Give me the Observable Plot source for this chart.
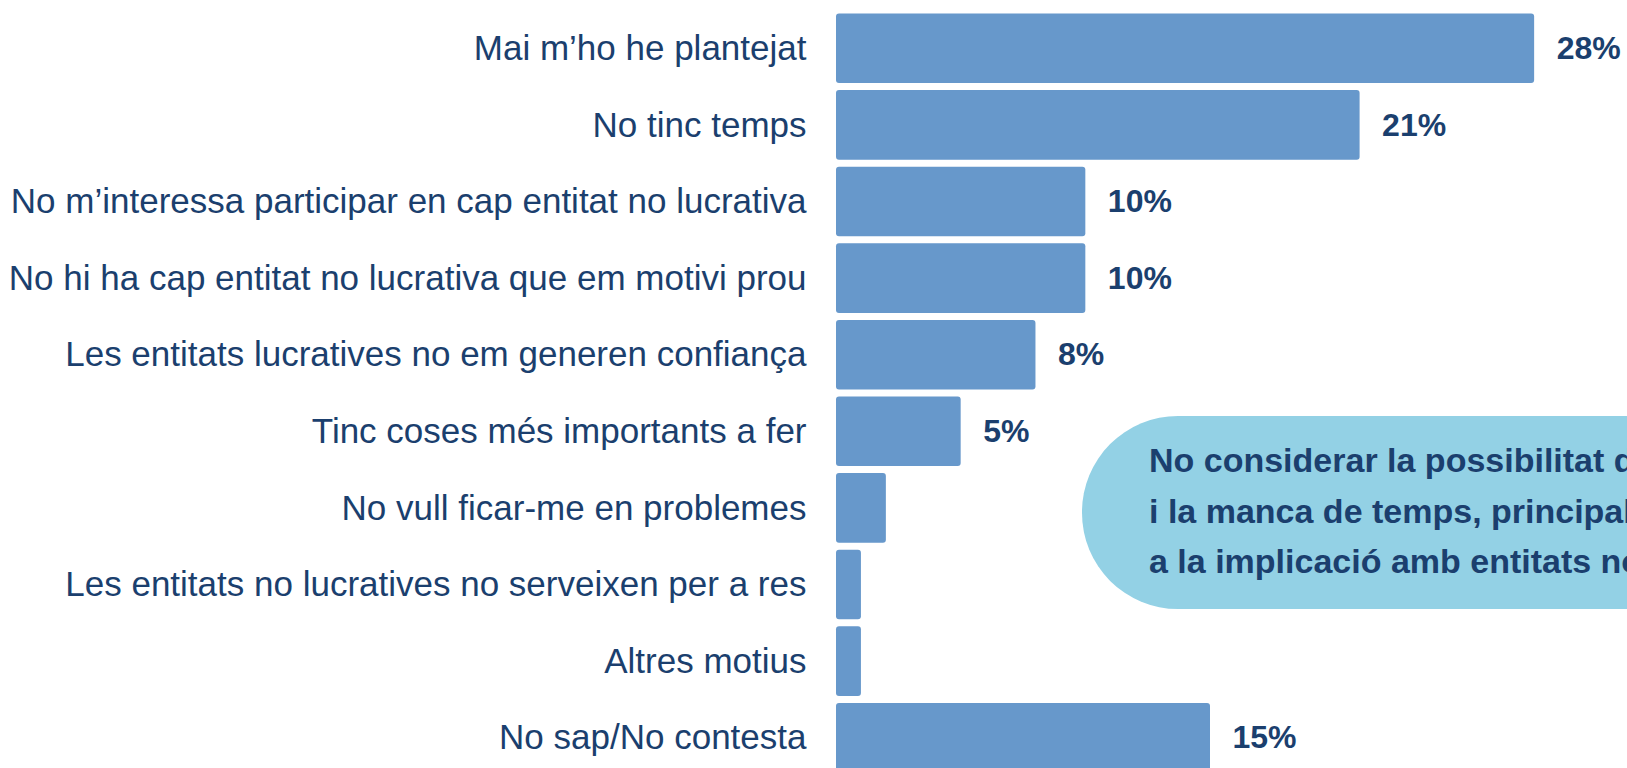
<!DOCTYPE html>
<html>
<head>
<meta charset="utf-8">
<script src="https://cdn.jsdelivr.net/npm/d3@7"></script>
<script src="https://cdn.jsdelivr.net/npm/@observablehq/plot@0.6"></script>
<style>
  html, body { margin: 0; padding: 0; background: #fff; overflow: hidden; }
  #wrap { position: relative; width: 1627px; height: 768px; overflow: hidden; }
  #callout {
    position: absolute; left: 1082px; top: 416px; width: 700px; height: 193px;
    background: #93d1e5; border-radius: 96px 0 0 96px;
    box-sizing: border-box; padding: 19px 0 0 67px;
    font-family: "Liberation Sans", Arial, sans-serif; font-weight: bold;
    font-size: 34px; line-height: 50.5px; color: #1b3f6e; white-space: nowrap;
  }
</style>
</head>
<body>
<div id="wrap">
  <div id="chart"></div>
  <div id="callout"></div>
</div>
<script>
const categories = [
  "Mai m’ho he plantejat",
  "No tinc temps",
  "No m’interessa participar en cap entitat no lucrativa",
  "No hi ha cap entitat no lucrativa que em motivi prou",
  "Les entitats lucratives no em generen confiança",
  "Tinc coses més importants a fer",
  "No vull ficar-me en problemes",
  "Les entitats no lucratives no serveixen per a res",
  "Altres motius",
  "No sap/No contesta"
];
const values = [28, 21, 10, 10, 8, 5, 2, 1, 1, 15];
const calloutLines = [
  "No considerar la possibilitat de",
  "i la manca de temps, principals",
  "a la implicació amb entitats no"
];

const data = categories.map((c, i) => ({category: c, value: values[i]}));
const navy = "#1b3f6e";

const chart = Plot.plot({
  width: 1627,
  height: 790,
  marginLeft: 836,
  marginRight: 43,
  marginTop: 10,
  marginBottom: 14,
  style: {fontFamily: "'Liberation Sans', Arial, sans-serif", color: navy, background: "transparent"},
  x: {domain: [0, 30], axis: null},
  y: {domain: categories, paddingInner: 0.092, paddingOuter: 0.046, round: false, axis: null},
  marks: [
    Plot.axisY({tickSize: 0, tickPadding: 30, fontSize: 35, label: null, fill: navy}),
    Plot.barX(data, {x: "value", y: "category", fill: "#6798cb", rx: 3}),
    Plot.text(data.filter(d => d.value >= 5), {
      x: "value", y: "category", text: d => d.value + "%",
      dx: 22, textAnchor: "start", fontWeight: "bold", fontSize: 32, fill: navy
    })
  ]
});
document.getElementById("chart").appendChild(chart);
document.getElementById("callout").innerHTML = calloutLines.map(l => `<div>${l}</div>`).join("");
</script>
</body>
</html>
